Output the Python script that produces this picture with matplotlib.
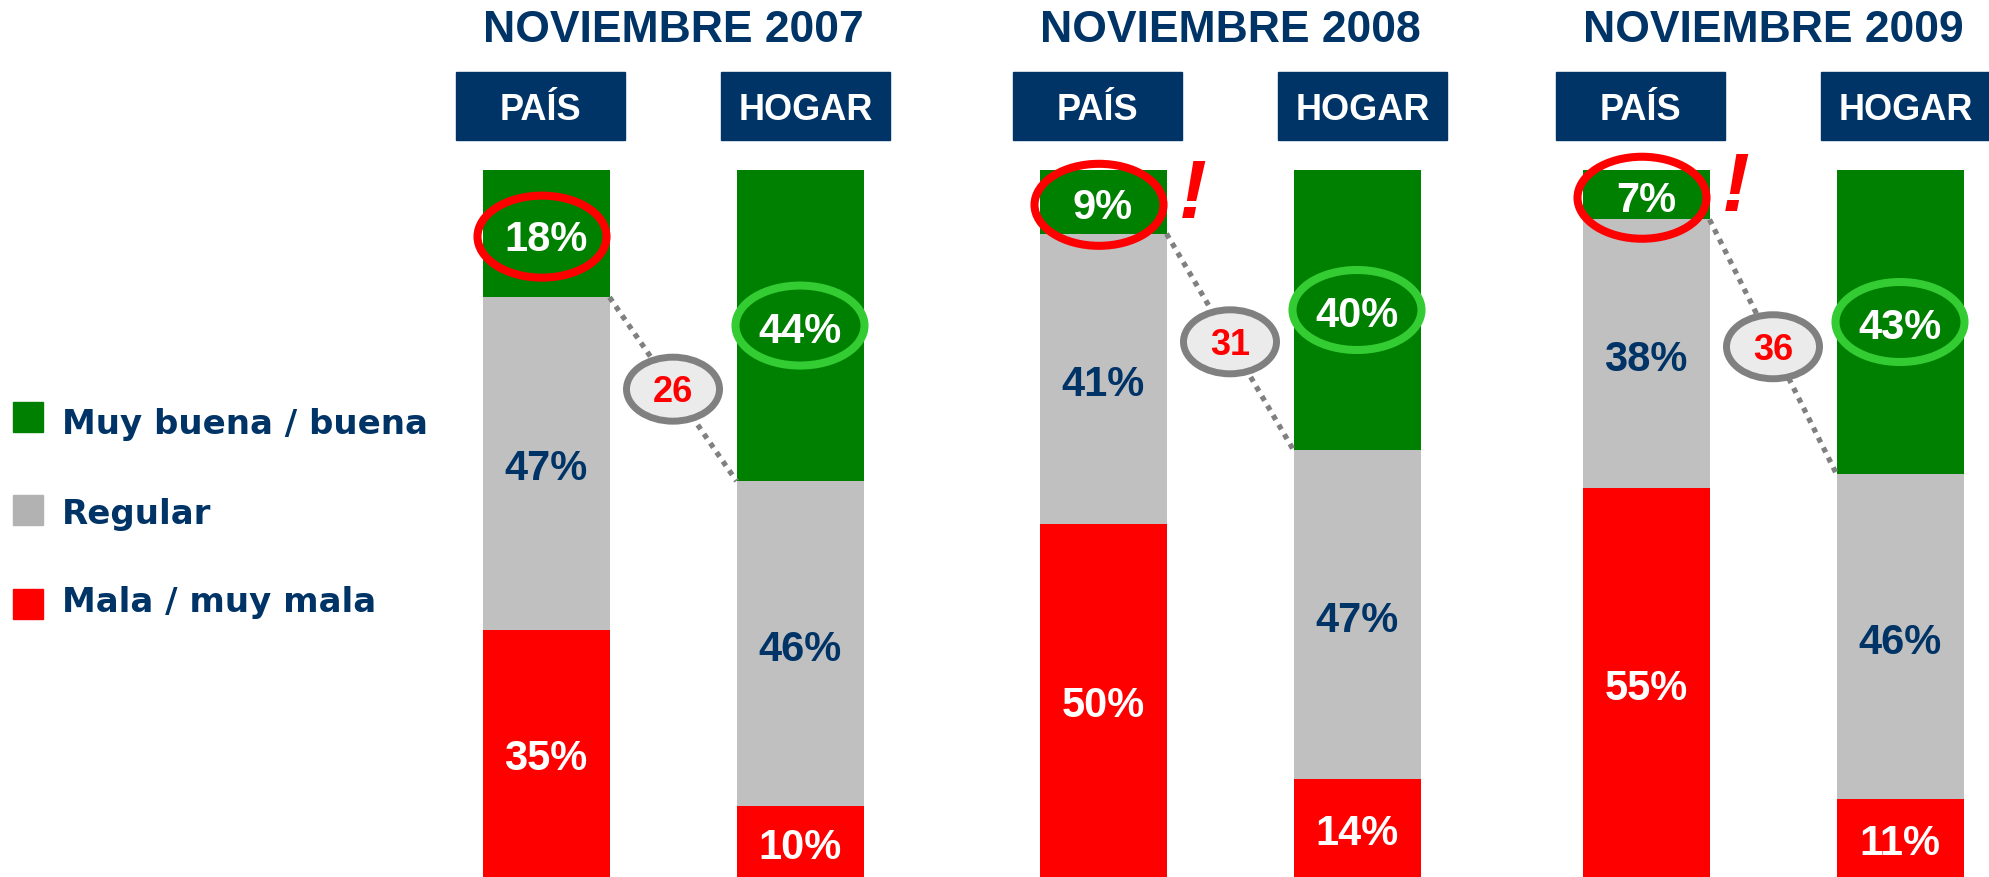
import matplotlib.pyplot as plt
from matplotlib.patches import Ellipse, Rectangle

# data
periods = ['NOVIEMBRE 2007', 'NOVIEMBRE 2008', 'NOVIEMBRE 2009']
sides = ['PAÍS', 'HOGAR']
categories = ['Muy buena / buena', 'Regular', 'Mala / muy mala']
pais_buena = [18, 9, 7]
pais_regular = [47, 41, 38]
pais_mala = [35, 50, 55]
hogar_buena = [44, 40, 43]
hogar_regular = [46, 47, 46]
hogar_mala = [10, 14, 11]
alert = [False, True, True]

NAVY = '#003366'
GREEN = '#008000'
LIGHT_GREEN = '#33CC33'
GRAY = '#C0C0C0'
LEGEND_GRAY = '#B2B2B2'
RED = '#FF0000'
DARK_GRAY = '#808080'

plt.rcParams['font.family'] = ['Liberation Sans', 'DejaVu Sans']
plt.rcParams['font.weight'] = 'bold'

W, H = 1990, 877
bar_top = 170
fig = plt.figure(figsize=(W / 100, H / 100), dpi=100)

# layout axes in pixel units (y down)
lay = fig.add_axes([0, 0, 1, 1])
lay.set_xlim(0, W)
lay.set_ylim(H, 0)
lay.axis('off')

# bar axes: 0..100 maps to bottom..bar_top
ax = fig.add_axes([0, 0, 1, (H - bar_top) / H])
ax.set_xlim(0, W)
ax.set_ylim(0, 100)
ax.axis('off')
py = 100 / (H - bar_top)  # data units per pixel

group_x = [673, 1230, 1773]
bar_off = 127
box_off = 132.5
bar_w = 127

for i, period in enumerate(periods):
    c = group_x[i]
    lay.text(c, 42, period, ha='center', va='baseline', fontsize=32, color=NAVY)

    segs = {}
    for side, vals, sign in [
            ('PAÍS', (pais_mala[i], pais_regular[i], pais_buena[i]), -1),
            ('HOGAR', (hogar_mala[i], hogar_regular[i], hogar_buena[i]), 1)]:
        bx = c + sign * box_off
        lay.add_patch(Rectangle((bx - 84.5, 72), 169, 68, color=NAVY))
        lay.text(bx, 120, side, ha='center', va='baseline', fontsize=26, color='white')

        x = c + sign * bar_off
        total = sum(vals)
        scaled = [v * 100 / total for v in vals]
        bottom = 0
        centers = []
        for v, sv, col, tcol in zip(vals, scaled, [RED, GRAY, GREEN], ['white', NAVY, 'white']):
            ax.bar(x, sv, bottom=bottom, width=bar_w, color=col, linewidth=0)
            mid = bottom + sv / 2
            centers.append(mid)
            ax.text(x, mid - 17 * py, f'{v}%', ha='center', va='baseline',
                    fontsize=30, color=tcol, zorder=5)
            bottom += sv
        segs[side] = (x, scaled, centers)

    # circles around the "buena" share
    xp, sp, cp = segs['PAÍS']
    xh, sh, ch = segs['HOGAR']
    ax.add_patch(Ellipse((xp - 4, cp[2] - 3 * py), 129, 82 * py, fill=False,
                         edgecolor=RED, linewidth=5.8, clip_on=False, zorder=4))
    ax.add_patch(Ellipse((xh, ch[2]), 129, 80 * py, fill=False,
                         edgecolor=LIGHT_GREEN, linewidth=5.8, clip_on=False, zorder=4))

    # dotted connector and gap bubble
    y0 = sp[0] + sp[1]
    y1 = sh[0] + sh[1]
    x0 = xp + bar_w / 2
    x1 = xh - bar_w / 2
    ax.plot([x0, x1], [y0, y1], color=DARK_GRAY, linewidth=3.8,
            linestyle=(0, (1.0, 1.1)), clip_on=False, zorder=3)
    mx, my = (x0 + x1) / 2, (y0 + y1) / 2
    ax.add_patch(Ellipse((mx, my), 93, 64 * py, facecolor='#EBEBEB',
                         edgecolor=DARK_GRAY, linewidth=5, clip_on=False, zorder=4))
    ax.text(mx, my - 13 * py, f'{hogar_buena[i] - pais_buena[i]}', ha='center',
            va='baseline', fontsize=26, color=RED, zorder=6)

    if alert[i]:
        ax.text(xp + 90, cp[2] + 6 * py, '!', ha='center', va='center',
                fontsize=60, style='italic', color=RED, clip_on=False, zorder=6)

# legend
legend_base = [434, 524, 612]
legend_box = [402, 495, 589]
for lab, col, yb, yt in zip(categories, [GREEN, LEGEND_GRAY, RED], legend_base, legend_box):
    lay.add_patch(Rectangle((13, yt), 30, 30, color=col))
    lay.text(62, yb, lab, ha='left', va='baseline', fontsize=24.5, color=NAVY,
             family='DejaVu Sans')

fig.savefig('out.png', dpi=100)
